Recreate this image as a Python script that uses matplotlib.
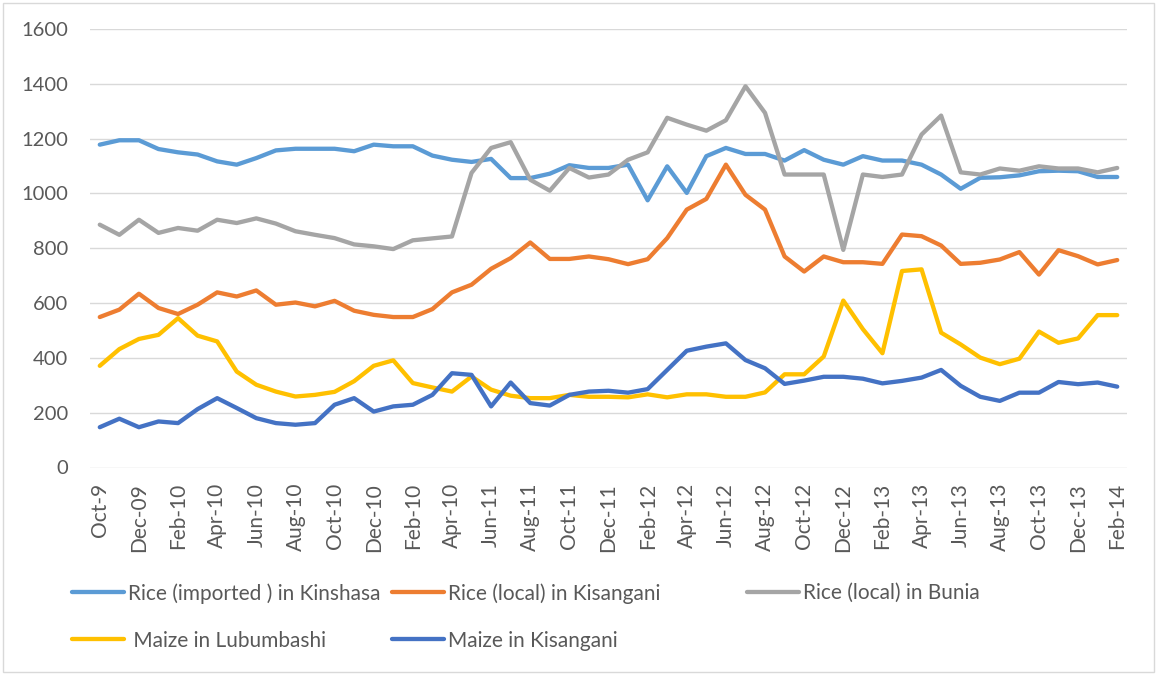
import numpy as np
import matplotlib.pyplot as plt
from matplotlib.lines import Line2D
from matplotlib.patches import Rectangle

plt.rcParams['font.family'] = ['Lato', 'DejaVu Sans']

# tick labels as printed on the chart (every second month)
tick_labels = ['Oct-9', 'Dec-09', 'Feb-10', 'Apr-10', 'Jun-10', 'Aug-10', 'Oct-10',
               'Dec-10', 'Feb-10', 'Apr-10', 'Jun-11', 'Aug-11', 'Oct-11', 'Dec-11',
               'Feb-12', 'Apr-12', 'Jun-12', 'Aug-12', 'Oct-12', 'Dec-12', 'Feb-13',
               'Apr-13', 'Jun-13', 'Aug-13', 'Oct-13', 'Dec-13', 'Feb-14']

# monthly prices, Oct 2009 .. Feb 2014
rice_kinshasa = [1178, 1194, 1194, 1162, 1150, 1142, 1117, 1105, 1129, 1157, 1163, 1163, 1163,
                 1154, 1178, 1172, 1172, 1138, 1123, 1115, 1126, 1056, 1056, 1072, 1103, 1093,
                 1093, 1105, 975, 1099, 1002, 1136, 1166, 1144, 1144, 1120, 1158, 1123, 1105,
                 1136, 1120, 1120, 1105, 1069, 1017, 1057, 1059, 1066, 1081, 1083, 1081, 1060, 1060]
rice_kisangani = [549, 576, 634, 582, 560, 594, 639, 624, 646, 594, 602, 588, 608,
                  572, 557, 549, 549, 578, 639, 667, 725, 764, 821, 761, 761, 770,
                  760, 742, 760, 837, 941, 980, 1105, 995, 941, 770, 715, 770, 749,
                  749, 743, 850, 844, 810, 743, 747, 759, 786, 704, 793, 771, 741, 757]
rice_bunia = [886, 849, 904, 856, 874, 864, 904, 892, 909, 890, 862, 849, 837,
              814, 807, 797, 829, 836, 843, 1075, 1166, 1187, 1050, 1010, 1093, 1058,
              1069, 1123, 1150, 1276, 1251, 1229, 1267, 1391, 1294, 1069, 1069, 1069, 794,
              1069, 1060, 1069, 1215, 1284, 1077, 1069, 1091, 1083, 1099, 1091, 1091, 1077, 1093]
maize_lubumbashi = [371, 432, 469, 484, 545, 481, 460, 350, 302, 277, 259, 265, 276,
                    315, 371, 391, 308, 292, 277, 332, 284, 262, 253, 253, 265, 258,
                    258, 256, 267, 256, 267, 267, 258, 258, 274, 340, 340, 405, 609,
                    505, 417, 717, 723, 492, 449, 401, 377, 397, 496, 455, 471, 556, 556]
maize_kisangani = [147, 178, 147, 168, 162, 213, 253, 217, 180, 162, 156, 162, 229,
                   253, 204, 223, 229, 265, 344, 338, 223, 310, 235, 226, 265, 277,
                   280, 273, 286, 356, 426, 441, 453, 392, 362, 305, 317, 331, 331,
                   324, 307, 316, 328, 356, 298, 258, 243, 273, 273, 312, 304, 310, 295]

series = [
    ('Rice (imported ) in Kinshasa', rice_kinshasa, '#5B9BD5'),
    ('Rice (local) in Kisangani', rice_kisangani, '#ED7D31'),
    ('Rice (local) in Bunia', rice_bunia, '#A5A5A5'),
    (' Maize in Lubumbashi', maize_lubumbashi, '#FFC000'),
    ('Maize in Kisangani', maize_kisangani, '#4472C4'),
]

W, H = 1157, 675
fig = plt.figure(figsize=(W / 100, H / 100), dpi=100)
ax = fig.add_axes([90 / W, 1 - 467.5 / H, 1037 / W, 438.5 / H])

x = np.arange(len(rice_kinshasa))
for name, vals, col in series:
    ax.plot(x, vals, color=col, lw=3.1, solid_joinstyle='round', solid_capstyle='round', label=name)

ax.set_xlim(-0.5, len(x) - 0.5)
ax.set_ylim(0, 1600)
ax.set_yticks(np.arange(0, 1601, 200))
ax.set_xticks(x[::2])
ax.set_xticklabels(tick_labels, rotation=90)
ax.grid(axis='y', color='#D9D9D9', lw=1)
ax.set_axisbelow(True)
for s in ax.spines.values():
    s.set_visible(False)
ax.tick_params(axis='both', length=0, colors='#595959')
ax.tick_params(axis='y', pad=16, labelsize=14.5)
ax.tick_params(axis='x', pad=11, labelsize=15)

# legend laid out like Excel's: two rows, three columns
cols = [(72, [0, 3]), (392, [1, 4]), (747, [2])]
for xpos, idx in cols:
    hs = [Line2D([], [], color=series[i][2], lw=3.1, solid_capstyle='round') for i in idx]
    ls = [series[i][0] for i in idx]
    leg = fig.legend(hs, ls, loc='upper left', bbox_to_anchor=(xpos / W, 1 - 583 / H),
                     frameon=False, fontsize=15, handlelength=2.5, handletextpad=0.2,
                     labelspacing=1.3, borderpad=0, borderaxespad=0)
    for t in leg.get_texts():
        t.set_color('#595959')

fig.patches.append(Rectangle((3 / W, 3 / H), 1 - 6 / W, 1 - 6 / H, transform=fig.transFigure,
                             fill=False, edgecolor='#D9D9D9', lw=1))

fig.savefig('out.png', dpi=100)
